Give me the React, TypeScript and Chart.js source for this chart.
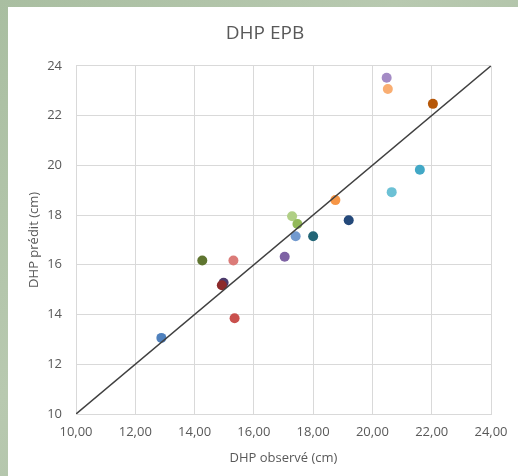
import React, { useEffect, useRef } from "react";
import { Chart, registerables } from "chart.js";

Chart.register(...registerables);

const observed = [12.88, 14.26, 15.31, 14.98, 14.92, 15.35, 17.04, 17.41, 17.29, 17.47, 18.0, 18.75, 19.2, 20.48, 20.52, 22.04, 20.65, 21.6];
const predicted = [13.06, 16.17, 16.17, 15.28, 15.18, 13.85, 16.32, 17.15, 17.95, 17.64, 17.15, 18.6, 17.79, 23.52, 23.07, 22.47, 18.92, 19.82];
const pointColors = [
  "#4F81BD", "#5F7530", "#DB7B78", "#4C3A6B", "#8C2A2A", "#C9504D",
  "#7E62A4", "#729ACF", "#B0CF85", "#92B957", "#226576", "#F79646",
  "#24497A", "#A48BC5", "#F9AE72", "#B65708", "#6CC1D5", "#42A8C6",
];
const lineX = [10, 24];
const lineY = [10, 24];

const titleText = "DHP EPB";
const xTitle = "DHP observé (cm)";
const yTitle = "DHP prédit (cm)";

export default function App() {
  const ref = useRef<HTMLCanvasElement>(null);
  useEffect(() => {
    document.body.style.margin = "0";
    const font = "'Open Sans', sans-serif";
    const chart = new Chart(ref.current!, {
      type: "scatter",
      data: {
        datasets: [
          {
            type: "line",
            data: lineX.map((x, i) => ({ x, y: lineY[i] })),
            borderColor: "#404040",
            borderWidth: 1.5,
            pointRadius: 0,
            order: 0,
          },
          {
            data: observed.map((x, i) => ({ x, y: predicted[i] })),
            backgroundColor: pointColors,
            borderColor: pointColors,
            borderWidth: 0,
            pointRadius: 5,
            order: 1,
          },
        ],
      },
      options: {
        animation: false,
        responsive: false,
        layout: { padding: { left: 31, right: 27, top: 0, bottom: 0 } },
        plugins: {
          legend: { display: false },
          tooltip: { enabled: false },
          title: {
            display: true,
            text: titleText,
            color: "#595959",
            font: { family: font, size: 19, weight: "normal" },
            padding: { top: 15, bottom: 21 },
          },
        },
        scales: {
          x: {
            type: "linear",
            min: 10,
            max: 24,
            ticks: {
              stepSize: 2,
              color: "#595959",
              font: { family: font, size: 13 },
              padding: 10,
              callback: (v: any) => Number(v).toFixed(2).replace(".", ","),
            },
            grid: { color: "#d9d9d9", drawTicks: false },
            border: { color: "#d9d9d9" },
            title: {
              display: true,
              text: xTitle,
              color: "#595959",
              font: { family: font, size: 13 },
              padding: { top: 4, bottom: 10 },
            },
            afterFit: (s: any) => {
              s.height = 62;
            },
          },
          y: {
            type: "linear",
            min: 10,
            max: 24,
            ticks: {
              stepSize: 2,
              color: "#595959",
              font: { family: font, size: 13 },
              padding: 14,
              callback: (v: any) => String(v),
            },
            grid: { color: "#d9d9d9", drawTicks: false },
            border: { color: "#d9d9d9" },
            title: {
              display: true,
              text: yTitle,
              color: "#595959",
              font: { family: font, size: 13 },
              padding: { top: -13, bottom: 4 },
            },
            afterFit: (s: any) => {
              s.width = 37;
            },
          },
        },
      },
    });
    return () => chart.destroy();
  }, []);
  return (
    <div
      style={{
        width: 518,
        height: 476,
        background: "linear-gradient(135deg, #a9bea1 0%, #b8c9b0 40%, #a3b89b 100%)",
        position: "relative",
        overflow: "hidden",
      }}
    >
      <canvas
        ref={ref}
        width={510}
        height={469}
        style={{ position: "absolute", left: 8, top: 7, background: "#ffffff", display: "block" }}
      />
    </div>
  );
}
